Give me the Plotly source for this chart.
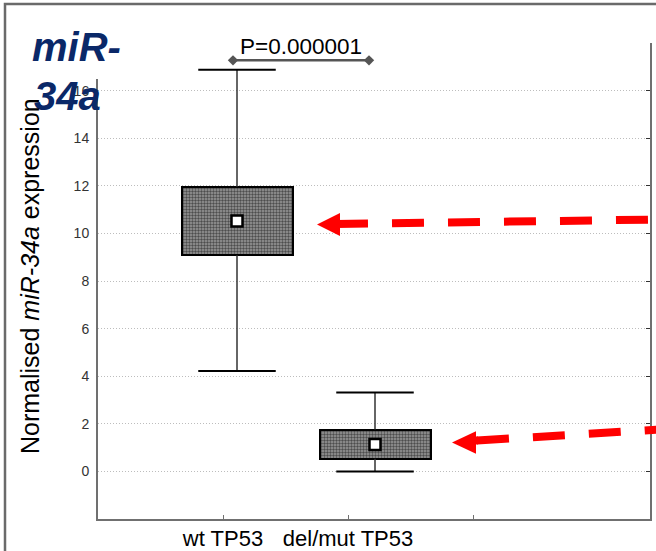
import plotly.graph_objects as go

# ---- data ----
categories = ["wt TP53", "del/mut TP53"]
cat_ticks = [1, 2, 3]
cat_labels = ["wt TP53", "del/mut TP53", ""]
box_pos = [1.112, 2.216]
box_low = [9.08, 0.53]
box_high = [11.96, 1.76]
means = [10.52, 1.13]
whisk_low = [4.22, 0.0]
whisk_high = [16.88, 3.32]
y_ticks = [0, 2, 4, 6, 8, 10, 12, 14, 16]
p_text = "P=0.000001"
p_x = [1.08, 2.168]
p_y = [17.27, 17.27]

# ---- layout geometry (pixels) ----
FW, FH = 656, 551
L, T, R, B = 98, 43, 650, 519
W, H = R - L, B - T

def px(x):
    return (x - L) / W

def py(y):
    return 1 - (y - T) / H

FONT = "Arial, Liberation Sans, sans-serif"
AXC = "#707070"

fig = go.Figure()

# boxes
fig.add_trace(go.Bar(
    x=box_pos, y=[h - l for h, l in zip(box_high, box_low)], base=box_low,
    width=0.888,
    marker=dict(color="white", line=dict(color="black", width=2),
                pattern=dict(shape=".", fgcolor="black", bgcolor="#9a9a9a",
                             size=3, solidity=0.5)),
    showlegend=False, hoverinfo="skip"))

# whiskers
cap = 0.62
wx, wy = [], []
for p, bl, bh, lo, hi in zip(box_pos, box_low, box_high, whisk_low, whisk_high):
    wx += [p, p, None, p, p, None]
    wy += [bh, hi, None, bl, lo, None]
fig.add_trace(go.Scatter(x=wx, y=wy, mode="lines",
                         line=dict(color="#333333", width=1.5),
                         showlegend=False, hoverinfo="skip"))
cx, cy = [], []
for p, lo, hi in zip(box_pos, whisk_low, whisk_high):
    cx += [p - cap / 2, p + cap / 2, None, p - cap / 2, p + cap / 2, None]
    cy += [hi, hi, None, lo, lo, None]
fig.add_trace(go.Scatter(x=cx, y=cy, mode="lines",
                         line=dict(color="black", width=2),
                         showlegend=False, hoverinfo="skip"))

# mean markers
fig.add_trace(go.Scatter(x=box_pos, y=means, mode="markers",
                         marker=dict(symbol="square", size=11, color="white",
                                     line=dict(color="black", width=2.5)),
                         showlegend=False, hoverinfo="skip"))

# p-value bracket
fig.add_trace(go.Scatter(x=p_x, y=p_y, mode="lines+markers", cliponaxis=False,
                         line=dict(color="#555555", width=2.5),
                         marker=dict(symbol="diamond", size=8, color="#555555"),
                         showlegend=False, hoverinfo="skip"))

# invisible trace for the right axis
fig.add_trace(go.Scatter(x=[box_pos[0]], y=[means[0]], yaxis="y2", mode="markers",
                         marker=dict(opacity=0), showlegend=False, hoverinfo="skip"))

shapes = []
# outer slide frame
shapes.append(dict(type="path", xref="paper", yref="paper",
                   path=f"M {px(5)} {py(FH + 5)} L {px(5)} {py(4)} L {px(FW + 5)} {py(4)}",
                   line=dict(color="#6a6a6a", width=2.5)))
# mask top of left axis (title box)
shapes.append(dict(type="rect", xref="paper", yref="paper",
                   x0=px(94), x1=px(102), y0=py(79), y1=py(40),
                   fillcolor="white", line=dict(width=0), layer="above"))

# red dashed arrows
def arrow(tip, base_x, base_half, shaft_start, shaft_end):
    tx, ty = tip
    bx = base_x
    by = ty
    shapes.append(dict(type="line", xref="paper", yref="paper",
                       x0=px(shaft_start[0]), y0=py(shaft_start[1]),
                       x1=px(shaft_end[0]), y1=py(shaft_end[1]),
                       line=dict(color="#ff0000", width=8, dash="32px,24px"),
                       layer="above"))
    shapes.append(dict(type="path", xref="paper", yref="paper",
                       path=(f"M {px(tx)} {py(ty)} L {px(bx)} {py(by - base_half)} "
                             f"L {px(bx)} {py(by + base_half)} Z"),
                       fillcolor="#ff0000", line=dict(width=0), layer="above"))
    shapes.append(dict(type="line", xref="paper", yref="paper",
                       x0=px(bx - 2), y0=py(shaft_start[1]), x1=px(shaft_start[0] + 1),
                       y1=py(shaft_start[1]),
                       line=dict(color="#ff0000", width=8), layer="above"))

arrow((317, 224.5), 340, 11.5, (336, 224), (660, 219.5))
arrow((452, 442.5), 476, 11.2, (477, 440.5), (660, 429.5))

annotations = [
    dict(text="<b><i>miR-</i></b>", xref="paper", yref="paper",
         x=px(30), y=py(47), xanchor="left", yanchor="middle", showarrow=False,
         font=dict(family=FONT, size=40, color="#0a2868")),
    dict(text="<b><i>34a</i></b>", xref="paper", yref="paper",
         x=px(32), y=py(96), xanchor="left", yanchor="middle", showarrow=False,
         font=dict(family=FONT, size=40, color="#0a2868")),
    dict(text="Normalised <i>miR-34a</i> expression", xref="paper", yref="paper",
         x=px(30), y=py(276), xanchor="center", yanchor="middle", textangle=-90,
         showarrow=False, font=dict(family=FONT, size=25, color="black")),
    dict(text=p_text, xref="paper", yref="paper",
         x=px(301), y=py(47), xanchor="center", yanchor="middle",
         showarrow=False, font=dict(family=FONT, size=22.5, color="black")),
]

fig.update_layout(
    width=FW, height=FH, autosize=False,
    margin=dict(l=L, r=FW - R, t=T, b=FH - B, autoexpand=False),
    paper_bgcolor="white", plot_bgcolor="white",
    showlegend=False, bargap=0,
    xaxis=dict(range=[0, W / 125.0], tickmode="array", tickvals=cat_ticks,
               ticktext=cat_labels, ticks="inside", ticklen=4, tickcolor=AXC,
               showline=True, linecolor=AXC, linewidth=2, showgrid=False,
               zeroline=False, tickfont=dict(family=FONT, size=22, color="black"),
               ticklabelstandoff=-1, automargin=False),
    yaxis=dict(range=[-2, 18], tickmode="array", tickvals=y_ticks,
               ticks="", showline=True, linecolor=AXC, linewidth=2,
               showgrid=True, gridcolor="#bdbdbd", griddash="1px,2px", gridwidth=1,
               zeroline=False, tickfont=dict(family=FONT, size=14, color="#333333"),
               ticklabelstandoff=4, automargin=False),
    yaxis2=dict(range=[-2, 18], overlaying="y", side="right", tickmode="array",
                tickvals=y_ticks, ticks="inside", ticklen=4, tickcolor="#333333",
                showticklabels=False, showline=True, linecolor=AXC, linewidth=2,
                showgrid=False, zeroline=False, automargin=False),
    shapes=shapes, annotations=annotations,
)

fig.write_html("out.html",
               config={"responsive": False, "displayModeBar": False},
               post_script="document.body.style.margin='0';document.documentElement.style.overflow='hidden';document.body.style.overflow='hidden';")
